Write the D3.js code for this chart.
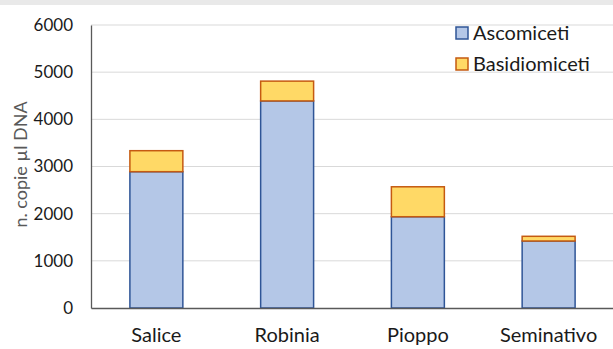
<!DOCTYPE html>
<html lang="en">
<head>
  <meta charset="UTF-8" />
  <style>
    body { margin: 0; background: #fff; font-family: Lato, sans-serif; }
    svg { display: block; }
  </style>
</head>
<body>
  <div id="chart"></div>
  <script src="https://d3js.org/d3.v7.min.js"></script>
  <script>
    const categories = ['Salice', 'Robinia', 'Pioppo', 'Seminativo'];
    const ascomiceti = [2890, 4390, 1935, 1420];
    const basidiomiceti = [445, 420, 635, 100];
    const seriesNames = ['Ascomiceti', 'Basidiomiceti'];
    const yTicks = [0, 1000, 2000, 3000, 4000, 5000, 6000];

    const width = 613, height = 349;
    const svg = d3.select('#chart').append('svg')
      .attr('width', width).attr('height', height);

    // grey strip at the top
    svg.append('rect').attr('x', 0).attr('y', 0).attr('width', width).attr('height', 5)
      .attr('fill', '#e9e9e9');

    const x = d3.scaleBand().domain(categories).range([91, 614]).paddingInner(0.595).paddingOuter(0.2975);
    const y = d3.scaleLinear().domain([0, 6000]).range([308, 25]);

    // gridlines
    svg.append('g').selectAll('line').data(yTicks.filter(d => d > 0)).enter().append('line')
      .attr('x1', 91).attr('x2', width)
      .attr('y1', d => y(d)).attr('y2', d => y(d))
      .attr('stroke', '#d9d9d9').attr('stroke-width', 1);

    const stacked = categories.map((c, i) => ({ c, a: ascomiceti[i], b: basidiomiceti[i] }));
    const bars = svg.append('g');
    bars.selectAll('rect.asc').data(stacked).enter().append('rect')
      .attr('x', d => x(d.c)).attr('width', x.bandwidth())
      .attr('y', d => y(d.a)).attr('height', d => y(0) - y(d.a))
      .attr('fill', '#b4c7e7').attr('stroke', '#2f5597').attr('stroke-width', 1.5);
    bars.selectAll('rect.bas').data(stacked).enter().append('rect')
      .attr('x', d => x(d.c)).attr('width', x.bandwidth())
      .attr('y', d => y(d.a + d.b)).attr('height', d => y(d.a) - y(d.a + d.b))
      .attr('fill', '#ffd966').attr('stroke', '#c55a11').attr('stroke-width', 1.5);

    // axes
    const yAxis = svg.append('g').attr('transform', 'translate(91,0)')
      .call(d3.axisLeft(y).tickValues(yTicks).tickFormat(d3.format('d')).tickSize(0).tickPadding(18));
    yAxis.select('.domain').attr('stroke', '#595959').attr('stroke-width', 1.3);
    yAxis.selectAll('text').attr('font-family', 'Lato, sans-serif').attr('font-size', 17).attr('fill', '#1a1a1a');

    const xAxis = svg.append('g').attr('transform', 'translate(0,308)')
      .call(d3.axisBottom(x).tickSize(0).tickPadding(20));
    xAxis.select('.domain').attr('stroke', '#595959').attr('stroke-width', 1.3);
    xAxis.selectAll('text').attr('font-family', 'Lato, sans-serif').attr('font-size', 20).attr('fill', '#1a1a1a');

    // y title
    svg.append('text')
      .attr('transform', `translate(27,${y(3000) - 2}) rotate(-90)`)
      .attr('text-anchor', 'middle')
      .attr('font-size', 18).attr('fill', '#595959')
      .text('n. copie µl DNA');

    // legend
    const legend = svg.append('g').attr('transform', 'translate(456,27)');
    const fills = ['#b4c7e7', '#ffd966'];
    const strokes = ['#2f5597', '#c55a11'];
    seriesNames.forEach((name, i) => {
      const row = legend.append('g').attr('transform', `translate(0,${i * 31})`);
      row.append('rect').attr('width', 12).attr('height', 12)
        .attr('fill', fills[i]).attr('stroke', strokes[i]).attr('stroke-width', 1.5);
      row.append('text').attr('x', 17).attr('y', 13)
        .attr('font-size', 20).attr('fill', '#1a1a1a').text(name);
    });
  </script>
</body>
</html>
